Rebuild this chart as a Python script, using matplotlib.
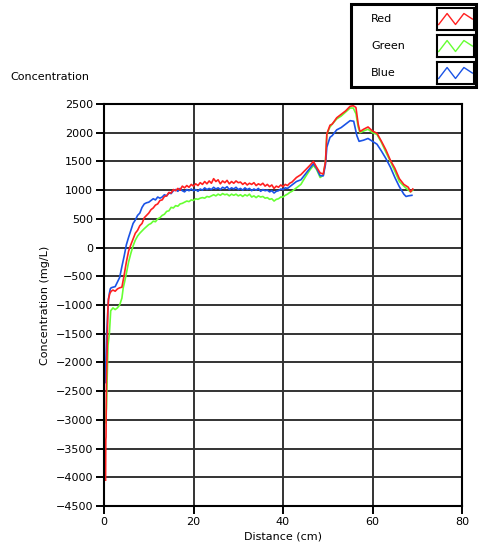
import matplotlib
matplotlib.use('Agg')
import matplotlib.pyplot as plt
from matplotlib.patches import Rectangle

plt.rcParams['font.family'] = ['DejaVu Sans']
plt.rcParams['font.size'] = 8

# ---- data (distance in cm, concentration in mg/L) ----
red_x = [0.35, 0.4, 0.45, 0.55, 0.7, 0.85, 1.0, 1.3, 1.6, 2.0, 2.5, 3.0, 3.5, 4.0, 4.5, 5.0,
         5.5, 6.0, 6.5, 7.0, 7.5, 8.0, 8.5, 9.0, 9.5,
         10, 10.5, 11, 11.5, 12, 12.5, 13, 13.5, 14, 14.5, 15, 15.5, 16, 16.5, 17, 17.5,
         18, 18.5, 19, 19.5, 20, 20.5, 21, 21.5, 22, 22.5, 23, 23.5, 24, 24.5, 25, 25.5,
         26, 26.5, 27, 27.5, 28, 28.5, 29, 29.5, 30, 30.5, 31, 31.5, 32, 32.5, 33, 33.5,
         34, 34.5, 35, 35.5, 36, 36.5, 37, 37.5, 38, 38.5, 39, 39.5, 40, 40.5, 41, 41.5,
         42, 43, 44, 45, 46, 46.8, 47.5, 48.3, 49, 49.5, 49.8, 50.5, 51, 52, 53, 54, 55,
         55.7, 56.3, 56.8, 57.2, 58, 59, 60, 61, 62, 63, 64, 65, 66, 67, 68, 68.5, 69]
red_y = [-4050, -3350, -3300, -2300, -1800, -1100, -900, -800, -760, -740, -760, -720,
         -700, -690, -480, -250, -60, 50, 150, 250, 300, 380, 420, 520, 560,
         600, 660, 690, 740, 760, 820, 830, 890, 900, 960, 950, 1010, 990, 1030, 1000, 1070,
         1040, 1080, 1050, 1100, 1070, 1110, 1080, 1130, 1100, 1150, 1110, 1160, 1120, 1200,
         1150, 1180, 1110, 1160, 1130, 1170, 1110, 1150, 1120, 1160, 1130, 1140, 1100, 1130,
         1090, 1120, 1100, 1130, 1080, 1110, 1090, 1120, 1070, 1100, 1060, 1090, 1030, 1070,
         1050, 1090, 1060, 1100, 1080, 1120,
         1140, 1220, 1270, 1350, 1430, 1500, 1400, 1300, 1280, 1500, 1980, 2130, 2150, 2260,
         2320, 2380, 2460, 2470, 2440, 2150, 2020, 2060, 2100, 2030, 1990, 1850, 1700, 1520,
         1380, 1200, 1100, 1050, 970, 1020]

green_x = [0.45, 0.5, 0.55, 0.7, 0.9, 1.2, 1.5, 2.0, 2.5, 3.0, 3.5, 4.0, 4.3, 4.6, 5.0,
           5.5, 6.0, 6.5, 7.0, 7.5, 8, 9,
           10, 10.5, 11, 11.5, 12, 12.5, 13, 13.5, 14, 14.5, 15, 15.5, 16, 16.5, 17, 17.5,
           18, 18.5, 19, 19.5, 20, 20.5, 21, 21.5, 22, 22.5, 23, 23.5, 24, 24.5, 25, 25.5,
           26, 26.5, 27, 27.5, 28, 28.5, 29, 29.5, 30, 30.5, 31, 31.5, 32, 32.5, 33, 33.5,
           34, 34.5, 35, 35.5, 36, 36.5, 37, 37.5, 38, 38.5, 39, 39.5, 40, 40.5, 41, 41.5,
           42, 43, 44, 45, 46, 46.8, 47.5, 48.3, 49, 49.5, 49.8, 50.5, 51, 52, 53,
           54, 55, 55.7, 56.3, 56.8, 57.2, 58, 59, 60, 61, 62, 63, 64, 65, 66, 67, 68,
           68.5, 69]
green_y = [-3050, -2850, -2800, -2300, -1700, -1500, -1100, -1050, -1080, -1050, -1000,
           -880, -700, -600, -450, -250, -100, 30, 130, 200, 250, 330,
           400, 420, 460, 450, 500, 520, 560, 580, 630, 640, 700, 690, 730, 720, 760, 770,
           790, 810, 800, 830, 820, 850, 840, 860, 870, 860, 890, 880, 900, 920, 900, 930,
           910, 940, 920, 930, 900, 930, 910, 930, 900, 920, 890, 920, 900, 930, 880, 900,
           870, 900, 880, 890, 860, 870, 840, 850, 810, 840, 850, 880, 880, 910, 930, 960,
           980, 1040, 1100, 1230, 1350, 1430, 1360, 1220, 1260, 1500, 1980, 2100, 2150, 2240,
           2290, 2360, 2430, 2430, 2330, 2100, 2000, 2030, 2060, 2000, 1970, 1830, 1660,
           1500, 1330, 1150, 1070, 1000, 970, 1000]

blue_x = [0.3, 0.35, 0.45, 0.6, 0.8, 1.0, 1.2, 1.4, 1.6, 2.0, 2.5, 3.0, 3.5, 4.0, 4.5,
          5.0, 5.5, 6.0, 6.5, 7.0, 7.5, 8.0, 8.5, 9.0, 9.5,
          10, 10.5, 11, 11.5, 12, 12.5, 13, 13.5, 14, 14.5, 15, 15.5, 16, 16.5, 17, 17.5,
          18, 18.5, 19, 19.5, 20, 20.5, 21, 21.5, 22, 22.5, 23, 23.5, 24, 24.5, 25, 25.5,
          26, 26.5, 27, 27.5, 28, 28.5, 29, 29.5, 30, 30.5, 31, 31.5, 32, 32.5, 33, 33.5,
          34, 34.5, 35, 35.5, 36, 36.5, 37, 37.5, 38, 38.5, 39, 39.5, 40, 40.5, 41, 41.5,
          42, 43, 44, 45, 46, 46.8, 47.5, 48.3, 49, 49.5, 49.8, 50.5, 51, 52, 53,
          54, 55, 55.8, 56.5, 57, 58, 59, 60, 61, 62, 63, 64, 65, 66, 67, 67.5, 68, 68.8]
blue_y = [-2350, -2300, -1900, -1500, -1200, -900, -800, -720, -700, -690, -680, -600,
          -520, -330, -150, 50, 180, 300, 420, 480, 560, 600, 700, 760, 780,
          790, 820, 850, 830, 880, 860, 880, 920, 900, 950, 940, 990, 1010, 980, 1030, 990,
          970, 1010, 990, 1020, 990, 1010, 980, 1020, 1000, 1040, 1010, 1030, 1010, 1050,
          1020, 1040, 1010, 1050, 1030, 1060, 1010, 1040, 1020, 1050, 1010, 1030, 1000, 1040,
          1010, 1030, 990, 1020, 1000, 1030, 980, 1010, 990, 1000, 970, 990, 950, 980, 990,
          1020, 1010, 1040, 1030, 1060,
          1090, 1150, 1180, 1280, 1380, 1460, 1380, 1250, 1250, 1450, 1750, 1920, 1950,
          2050, 2090, 2150, 2210, 2200, 1950, 1850, 1870, 1900, 1850, 1800, 1680, 1550,
          1400, 1220, 1060, 930, 890, 900, 910]

series = [('Red', red_x, red_y, '#ff2020'),
          ('Green', green_x, green_y, '#66ff33'),
          ('Blue', blue_x, blue_y, '#1a53e6')]

x_ticks = [0, 20, 40, 60, 80]
y_ticks = list(range(-4500, 2501, 500))

fig = plt.figure(figsize=(4.84, 5.56), dpi=100)
ax = fig.add_axes([104/484, 1 - 506/556, 358/484, 402/556])

for name, xs, ys, col in [series[1], series[2], series[0]]:
    ax.plot(xs, ys, color=col, lw=1.2)

ax.set_xlim(0, 80)
ax.set_ylim(-4500, 2500)
ax.set_xticks(x_ticks)
ax.set_yticks(y_ticks)
ax.grid(True, color='#333333', lw=1.4)
ax.set_axisbelow(True)
for s in ax.spines.values():
    s.set_color('black')
    s.set_linewidth(1.5)
ax.tick_params(direction='out', length=6, width=1.4, colors='black', labelsize=8, pad=2)
ax.set_xlabel('Distance (cm)', fontsize=8, labelpad=3)
ax.set_ylabel('Concentration (mg/L)', fontsize=8, labelpad=4)

fig.text(10/484, 1 - 77/556, 'Concentration', fontsize=8, va='center', ha='left')

# ---- legend box, drawn by hand like the original ----
fig.patches.append(Rectangle((351/484, 1 - 87/556), 125/484, 83/556, transform=fig.transFigure,
                             fill=False, edgecolor='black', lw=2.2))
box_tops = [8, 35, 62]
for (name, xs, ys, col), top in zip(series, box_tops):
    fig.text(371/484, 1 - (top + 11)/556, name, fontsize=8, va='center', ha='left')
    lax = fig.add_axes([437/484, 1 - (top + 22)/556, 37/484, 22/556])
    lax.plot([0, 1, 2, 3, 4], [0.25, 0.75, 0.25, 0.75, 0.5], color=col, lw=1)
    lax.set_xlim(-0.2, 4.2)
    lax.set_ylim(0, 1)
    lax.set_xticks([])
    lax.set_yticks([])
    for s in lax.spines.values():
        s.set_color('black')
        s.set_linewidth(1.5)

fig.savefig('out.png', dpi=100)
